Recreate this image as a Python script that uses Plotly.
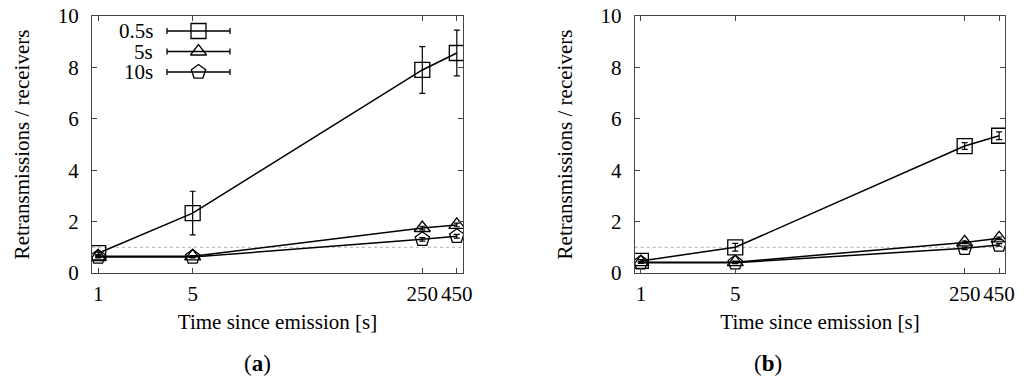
import math
import plotly.graph_objects as go

times = [1, 5, 250, 450]
tick_labels = ["1", "5", "250", "450"]
series_names = ["0.5s", "5s", "10s"]

# Panel (a)
a_05 = [0.77, 2.33, 7.90, 8.56]
a_05_err = [0.05, 0.85, 0.91, 0.89]
a_5 = [0.65, 0.65, 1.75, 1.87]
a_5_err = [0.03, 0.03, 0.07, 0.07]
a_10 = [0.62, 0.62, 1.31, 1.43]
a_10_err = [0.03, 0.03, 0.07, 0.07]

# Panel (b)
b_05 = [0.47, 1.00, 4.94, 5.34]
b_05_err = [0.05, 0.15, 0.13, 0.15]
b_5 = [0.42, 0.42, 1.19, 1.35]
b_5_err = [0.03, 0.04, 0.05, 0.05]
b_10 = [0.40, 0.40, 0.96, 1.09]
b_10_err = [0.03, 0.04, 0.05, 0.05]

symbols = ["square-open", "triangle-up-open", "pentagon-open"]
sizes = [15, 14, 15]

W, H = 1024, 386
SERIF = "Liberation Serif, Times New Roman, serif"
AXC = "#444444"
FS = 21

fig = go.Figure()

panels = [
    ("x", "y", [(a_05, a_05_err), (a_5, a_5_err), (a_10, a_10_err)]),
    ("x2", "y2", [(b_05, b_05_err), (b_5, b_5_err), (b_10, b_10_err)]),
]
for xa, ya, data in panels:
    for i, (vals, errs) in enumerate(data):
        fig.add_trace(go.Scatter(
            x=times, y=vals, xaxis=xa, yaxis=ya, mode="lines+markers",
            name=series_names[i], showlegend=False,
            line=dict(color="black", width=1.5),
            marker=dict(symbol=symbols[i], size=sizes[i], color="black",
                        line=dict(color="black", width=1.3)),
            error_y=dict(type="data", array=errs, visible=True,
                         color="black", thickness=1.2, width=3),
        ))

# Manual gnuplot-style legend (text left, key right) on a pixel overlay axis
leg_rows = [31, 51.5, 72]
for i, name in enumerate(series_names):
    fig.add_trace(go.Scatter(
        x=[198.5], y=[leg_rows[i]], xaxis="x3", yaxis="y3", mode="markers",
        showlegend=False, hoverinfo="skip",
        marker=dict(symbol=symbols[i], size=sizes[i], color="black",
                    line=dict(color="black", width=1.3)),
        error_x=dict(type="constant", value=31.5, visible=True,
                     color="black", thickness=1.3, width=3),
    ))
    fig.add_annotation(x=154, y=leg_rows[i], xref="x3", yref="y3",
                       text=name, showarrow=False, xanchor="right",
                       yanchor="middle", borderpad=0,
                       font=dict(family=SERIF, size=FS, color="black"))

xr = [math.log10(0.9), math.log10(500)]
ydom = [1 - 273 / H, 1 - 16 / H]
xdoms = [[92 / W, 463 / W], [634.7 / W, 1005.3 / W]]

common_x = dict(type="log", range=xr, tickvals=times, ticktext=tick_labels,
                ticks="inside", ticklen=5, tickcolor=AXC, mirror="allticks",
                showline=True, linecolor=AXC, linewidth=1.2, showgrid=False,
                zeroline=False, ticklabelstandoff=2, automargin=False,
                tickfont=dict(family=SERIF, size=FS, color="black"),
                title=dict(text="Time since emission [s]", standoff=9,
                           font=dict(family=SERIF, size=FS, color="black")))
common_y = dict(range=[0, 10], tickvals=[0, 2, 4, 6, 8, 10],
                ticks="inside", ticklen=5, tickcolor=AXC, mirror="allticks",
                showline=True, linecolor=AXC, linewidth=1.2, showgrid=False,
                zeroline=False, ticklabelstandoff=8, automargin=False,
                tickfont=dict(family=SERIF, size=FS, color="black"),
                title=dict(text="Retransmissions / receivers", standoff=22,
                           font=dict(family=SERIF, size=FS, color="black")))

fig.update_layout(
    width=W, height=H, margin=dict(l=0, r=0, t=0, b=0),
    paper_bgcolor="white", plot_bgcolor="rgba(0,0,0,0)", showlegend=False,
    xaxis=dict(domain=xdoms[0], anchor="y", **common_x),
    yaxis=dict(domain=ydom, anchor="x", **common_y),
    xaxis2=dict(domain=xdoms[1], anchor="y2", **common_x),
    yaxis2=dict(domain=ydom, anchor="x2", **common_y),
    xaxis3=dict(domain=[0, 1], range=[0, W], visible=False, anchor="y3",
                fixedrange=True, automargin=False),
    yaxis3=dict(domain=[0, 1], range=[H, 0], visible=False, anchor="x3",
                fixedrange=True, automargin=False),
)

# Dotted reference line at y = 1
for xa, ya in [("x", "y"), ("x2", "y2")]:
    fig.add_shape(type="line", xref=f"{xa} domain", yref=ya, x0=0, x1=1, y0=1, y1=1,
                  line=dict(color="#b0b0b0", width=1, dash="dot"), layer="below")

# Panel labels
for cx, lab in [(242 / W, "a"), (784 / W, "b")]:
    fig.add_annotation(x=cx, y=1 - 378 / H, xref="paper", yref="paper",
                       text=f"(<b>{lab}</b>)", showarrow=False,
                       font=dict(family=SERIF, size=23, color="black"))

fig.write_html("out.html", config={"displayModeBar": False},
               post_script="document.body.style.margin='0';document.body.style.overflow='hidden';")
